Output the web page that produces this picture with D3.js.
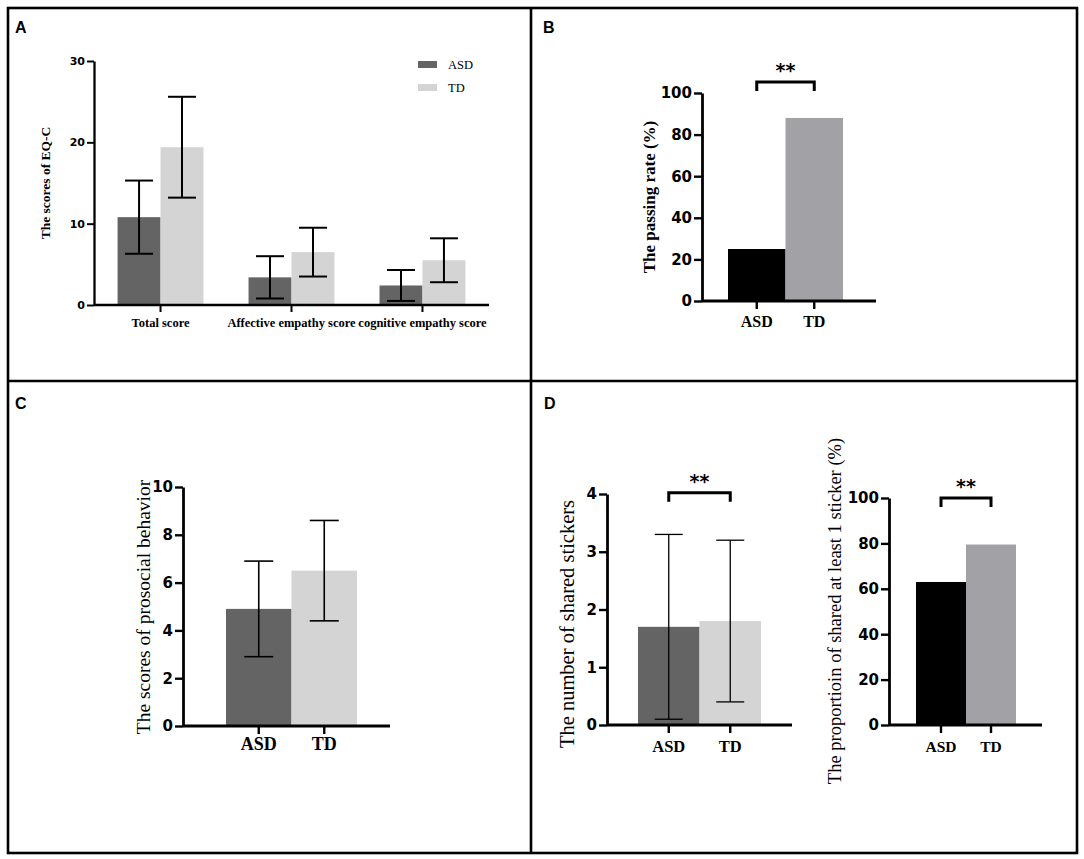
<!DOCTYPE html>
<html>
<head>
<meta charset="utf-8">
<script src="https://cdn.jsdelivr.net/npm/d3@7"></script>
<style>
	body { margin: 0; background: #fff; }
</style>
</head>
<body>
<div class="canvas"></div>
<script>
// ---- data ----
const groups = ['ASD', 'TD'];

// A: EQ-C scores (mean, SD)
const eqCategories = ['Total score', 'Affective empathy score', 'cognitive empathy score'];
const eqASD = [10.8, 3.4, 2.4];
const eqASDErr = [4.5, 2.6, 1.9];
const eqTD = [19.4, 6.5, 5.5];
const eqTDErr = [6.2, 3.0, 2.7];
const eqTicks = [0, 10, 20, 30];

// B: passing rate (%)
const passRate = [25, 88];
const passTicks = [0, 20, 40, 60, 80, 100];

// C: prosocial behaviour (mean, SD)
const prosocial = [4.9, 6.5];
const prosocialErr = [2.0, 2.1];
const prosocialTicks = [0, 2, 4, 6, 8, 10];

// D: shared stickers (mean, SD) and proportion sharing at least one
const stickers = [1.7, 1.8];
const stickersErr = [1.6, 1.4];
const stickerTicks = [0, 1, 2, 3, 4];
const sharedProp = [63, 79.5];
const sharedTicks = [0, 20, 40, 60, 80, 100];

// ---- styles ----
const sans = '"DejaVu Sans", Arial, sans-serif';
const serif = '"Liberation Serif", "Times New Roman", serif';
const letterFont = '"Liberation Sans", Arial, sans-serif';
const greyPair = ['#646464', '#d4d4d4'];
const blackPair = ['#000000', '#a2a2a6'];

const svg = d3.select('.canvas').append('svg')
	.attr('width', 1084)
	.attr('height', 859);

// frame and dividers
svg.append('rect')
	.attr('x', 8).attr('y', 8)
	.attr('width', 1069).attr('height', 845)
	.attr('fill', 'none')
	.attr('stroke', '#000')
	.attr('stroke-width', 2.6);

svg.append('line')
	.attr('x1', 531).attr('x2', 531).attr('y1', 8).attr('y2', 853)
	.attr('stroke', '#000').attr('stroke-width', 2.6);

svg.append('line')
	.attr('x1', 8).attr('x2', 1077).attr('y1', 381).attr('y2', 381)
	.attr('stroke', '#000').attr('stroke-width', 2.6);

// panel letters
[['A', 15, 33], ['B', 543, 33], ['C', 15, 409], ['D', 544, 409]].forEach(([t, x, y]) => {
	svg.append('text')
		.attr('x', x).attr('y', y)
		.attr('font-family', letterFont)
		.attr('font-weight', 'bold')
		.attr('font-size', 16)
		.text(t);
});

// rotated axis title
const yTitle = (text, x, y, size, weight) => {
	svg.append('text')
		.attr('transform', `translate(${x}, ${y}) rotate(-90)`)
		.attr('text-anchor', 'middle')
		.attr('dominant-baseline', 'central')
		.attr('font-family', serif)
		.attr('font-weight', weight)
		.attr('font-size', size)
		.text(text);
};

// vertical error bar with caps
const errorBar = (g, cx, y, mean, err, cap, width) => {
	const lo = y(Math.max(0, mean - err));
	const hi = y(mean + err);
	g.append('line')
		.attr('x1', cx).attr('x2', cx).attr('y1', lo).attr('y2', hi)
		.attr('stroke', '#000').attr('stroke-width', width);
	[lo, hi].forEach(yy => {
		g.append('line')
			.attr('x1', cx - cap / 2).attr('x2', cx + cap / 2)
			.attr('y1', yy).attr('y2', yy)
			.attr('stroke', '#000').attr('stroke-width', width);
	});
};

// left axis styled like the GraphPad output
const leftAxis = (g, y, axisX, ticks, fontSize, lineW, tickLen) => {
	const ax = g.append('g')
		.attr('transform', `translate(${axisX}, 0)`)
		.call(d3.axisLeft(y)
			.tickValues(ticks)
			.tickFormat(d3.format('d'))
			.tickSize(tickLen)
			.tickSizeOuter(0)
			.tickPadding(2));
	ax.select('.domain').attr('stroke-width', lineW);
	ax.selectAll('.tick line').attr('stroke-width', lineW * 0.85);
	ax.selectAll('.tick text')
		.attr('font-family', sans)
		.attr('font-weight', 'bold')
		.attr('font-size', fontSize)
		.attr('fill', '#000');
	return ax;
};

// ---- two-bar panels (B, C, D) ----
const twoBarPanel = (cfg) => {
	const g = svg.append('g');

	const x = d3.scaleBand()
		.domain(groups)
		.range(cfg.bars)
		.padding(0);

	const y = d3.scaleLinear()
		.domain([0, cfg.max])
		.range(cfg.yRange);

	g.selectAll('rect')
		.data(cfg.values)
		.join('rect')
		.attr('x', (d, i) => x(groups[i]))
		.attr('y', d => y(d))
		.attr('width', x.bandwidth())
		.attr('height', d => y(0) - y(d))
		.attr('fill', (d, i) => cfg.colours[i]);

	if (cfg.errors) {
		cfg.values.forEach((v, i) => {
			errorBar(g, x(groups[i]) + x.bandwidth() / 2, y, v, cfg.errors[i], cfg.cap, cfg.errW);
		});
	}

	leftAxis(g, y, cfg.axisX, cfg.ticks, 15, 2.8, 8);

	// x axis line and category ticks
	g.append('line')
		.attr('x1', cfg.axisX).attr('x2', cfg.axisEnd)
		.attr('y1', y(0)).attr('y2', y(0))
		.attr('stroke', '#000').attr('stroke-width', 2.8);

	groups.forEach(name => {
		const cx = x(name) + x.bandwidth() / 2;
		g.append('line')
			.attr('x1', cx).attr('x2', cx)
			.attr('y1', y(0)).attr('y2', y(0) + 8)
			.attr('stroke', '#000').attr('stroke-width', 2.4);
		g.append('text')
			.attr('x', cx).attr('y', y(0) + cfg.labelDy)
			.attr('text-anchor', 'middle')
			.attr('font-family', serif)
			.attr('font-weight', 'bold')
			.attr('font-size', cfg.labelSize)
			.text(name);
	});

	// significance bracket
	if (cfg.sig !== undefined) {
		const xa = x(groups[0]) + x.bandwidth() / 2;
		const xb = x(groups[1]) + x.bandwidth() / 2;
		const ys = y(cfg.sig);
		g.append('path')
			.attr('d', `M${xa},${ys + 9} L${xa},${ys} L${xb},${ys} L${xb},${ys + 9}`)
			.attr('fill', 'none')
			.attr('stroke', '#000')
			.attr('stroke-width', 3);
		g.append('text')
			.attr('x', (xa + xb) / 2).attr('y', ys - 5)
			.attr('text-anchor', 'middle')
			.attr('font-family', sans)
			.attr('font-weight', 'bold')
			.attr('font-size', 19)
			.text('**');
	}

	yTitle(cfg.title, cfg.titlePos[0], cfg.titlePos[1], cfg.titleSize, cfg.titleWeight);
};

// ---- panel A: grouped bars ----
const drawA = () => {
	const g = svg.append('g');
	const axisX = 94;

	const x0 = d3.scaleBand()
		.domain(eqCategories)
		.range([axisX, 489])
		.paddingInner(0.344)
		.paddingOuter(0.18);

	const x1 = d3.scaleBand()
		.domain(groups)
		.range([0, x0.bandwidth()]);

	const y = d3.scaleLinear()
		.domain([0, 30])
		.range([305, 61]);

	const series = [
		{ name: 'ASD', values: eqASD, errs: eqASDErr },
		{ name: 'TD', values: eqTD, errs: eqTDErr }
	];

	series.forEach((s, si) => {
		g.selectAll(`rect.s${si}`)
			.data(s.values)
			.join('rect')
			.attr('class', `s${si}`)
			.attr('x', (d, i) => x0(eqCategories[i]) + x1(s.name))
			.attr('y', d => y(d))
			.attr('width', x1.bandwidth())
			.attr('height', d => y(0) - y(d))
			.attr('fill', greyPair[si]);
	});

	series.forEach(s => {
		s.values.forEach((v, i) => {
			const cx = x0(eqCategories[i]) + x1(s.name) + x1.bandwidth() / 2;
			errorBar(g, cx, y, v, s.errs[i], 28, 2);
		});
	});

	leftAxis(g, y, axisX, eqTicks, 11, 2.3, 7);

	g.append('line')
		.attr('x1', axisX).attr('x2', 489)
		.attr('y1', y(0)).attr('y2', y(0))
		.attr('stroke', '#000').attr('stroke-width', 2.3);

	eqCategories.forEach(c => {
		const cx = x0(c) + x0.bandwidth() / 2;
		g.append('line')
			.attr('x1', cx).attr('x2', cx)
			.attr('y1', y(0)).attr('y2', y(0) + 7)
			.attr('stroke', '#000').attr('stroke-width', 2);
		g.append('text')
			.attr('x', cx).attr('y', 327)
			.attr('text-anchor', 'middle')
			.attr('font-family', serif)
			.attr('font-weight', 'bold')
			.attr('font-size', 12.5)
			.text(c);
	});

	// legend
	const legend = g.append('g').attr('transform', 'translate(418, 61)');
	groups.forEach((name, i) => {
		legend.append('rect')
			.attr('x', 0).attr('y', i * 23)
			.attr('width', 19).attr('height', 7)
			.attr('fill', greyPair[i]);
		legend.append('text')
			.attr('x', 30).attr('y', i * 23 + 8)
			.attr('font-family', serif)
			.attr('font-size', 12.5)
			.text(name);
	});

	yTitle('The scores of EQ-C', 45, 183, 13.5, 'bold');
};

drawA();

twoBarPanel({
	values: passRate, colours: blackPair,
	bars: [728, 843], axisX: 702, axisEnd: 876,
	max: 100, yRange: [301, 93], ticks: passTicks,
	labelDy: 26, labelSize: 16, sig: 105.3,
	title: 'The passing rate (%)', titlePos: [649, 197], titleSize: 17, titleWeight: 'bold'
});

twoBarPanel({
	values: prosocial, errors: prosocialErr, cap: 29, errW: 1.6, colours: greyPair,
	bars: [226, 357], axisX: 183, axisEnd: 390,
	max: 10, yRange: [726, 487], ticks: prosocialTicks,
	labelDy: 24, labelSize: 18,
	title: 'The scores of prosocial behavior', titlePos: [143, 607], titleSize: 19.5, titleWeight: 'normal'
});

twoBarPanel({
	values: stickers, errors: stickersErr, cap: 28, errW: 1.3, colours: greyPair,
	bars: [638, 761], axisX: 607, axisEnd: 792,
	max: 4, yRange: [725, 494], ticks: stickerTicks,
	labelDy: 27, labelSize: 16.5, sig: 4.02,
	title: 'The number of shared stickers', titlePos: [567, 624], titleSize: 20.5, titleWeight: 'normal'
});

twoBarPanel({
	values: sharedProp, colours: blackPair,
	bars: [916, 1016], axisX: 889, axisEnd: 1042,
	max: 100, yRange: [725, 498], ticks: sharedTicks,
	labelDy: 27, labelSize: 15.5, sig: 100,
	title: 'The proportioin of shared at least 1 sticker (%)', titlePos: [835, 611], titleSize: 18.5, titleWeight: 'normal'
});
</script>
</body>
</html>
